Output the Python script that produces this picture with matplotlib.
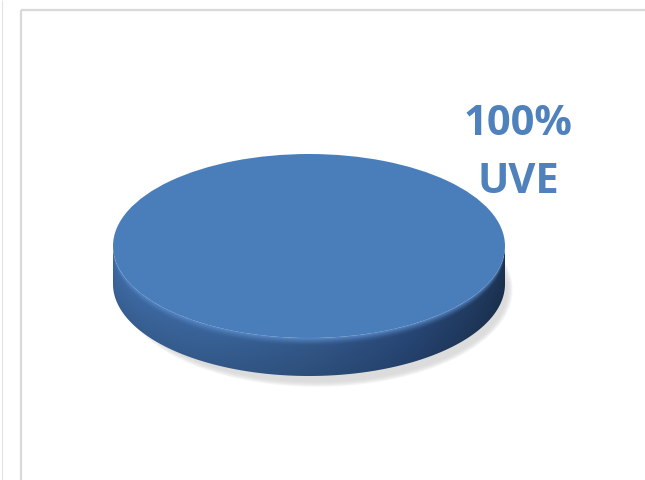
"""
3D-looking single-slice pie (100% UVE), Office style.
"""
import numpy as np
import matplotlib
matplotlib.use("Agg")
import matplotlib.pyplot as plt
from matplotlib.path import Path
from matplotlib.patches import PathPatch, Ellipse
from matplotlib.colors import to_rgb

# ---------------------------------------------------------------------------
# Data
# ---------------------------------------------------------------------------
labels = ["UVE"]
values = [100]
pct_labels = ["100%"]

top_color = "#4a7ebb"
label_color = "#4f81bd"

W, H = 645, 480
fig = plt.figure(figsize=(W / 100, H / 100), dpi=100)
fig.patch.set_facecolor("white")

# background axes in pixel coords (y down) for the frame and labels
bg = fig.add_axes([0, 0, 1, 1])
bg.set_xlim(0, W)
bg.set_ylim(H, 0)
bg.axis("off")
bg.plot([1.5, 1.5], [0, H], color="#e3e3e3", lw=0.8, solid_capstyle="butt")
bg.plot([21, 21], [10, H], color="#d9d9d9", lw=1.6, solid_capstyle="butt")
bg.plot([21, W], [10, 10], color="#d9d9d9", lw=1.6, solid_capstyle="butt")

# ---------------------------------------------------------------------------
# Pie axes: unit circle squashed into an ellipse (a=196px, b=92px)
# ---------------------------------------------------------------------------
cx, cy = 309, 246
sx, sy = 196, 92
x0, x1 = -1.3, 1.3
y0, y1 = -1.9, 1.3
left = (cx + x0 * sx) / W
width = (x1 - x0) * sx / W
bottom = 1 - (cy - y0 * sy) / H
height = (y1 - y0) * sy / H
ax = fig.add_axes([left, bottom, width, height])

t = 38 / sy  # thickness of the disc in data units

# soft shadow under the disc, mostly below and a little to the right
n_sh = 14
for i in range(n_sh):
    grow = 0.06 * (1 - i / n_sh)
    ax.add_patch(Ellipse((0.04, -t - 0.06), 2 * (0.97 + grow * 0.5), 2 * (1.0 + grow),
                         facecolor="#d2d2d2", edgecolor="none", alpha=0.08, zorder=1))

# side of the disc
th = np.linspace(np.pi, 2 * np.pi, 200)
top_edge = np.column_stack([np.cos(th), np.sin(th)])
bot_edge = np.column_stack([np.cos(th[::-1]), np.sin(th[::-1]) - t])
verts = np.vstack([top_edge, bot_edge, top_edge[:1]])
codes = [Path.MOVETO] + [Path.LINETO] * (len(verts) - 2) + [Path.CLOSEPOLY]
side = PathPatch(Path(verts, codes), facecolor="none", edgecolor="none", zorder=2)
ax.add_patch(side)

gx = np.linspace(-1, 1, 400)
gy = np.linspace(-1 - t, 0, 200)
X, Y = np.meshgrid(gx, gy)
stops_x = [-1.0, -0.5, 0.0, 0.5, 0.85, 1.0]
stops_c = [to_rgb(c) for c in ["#3f6ca6", "#3a659c", "#33598a", "#29497a", "#213c62", "#1d3556"]]
base = np.stack([np.interp(X, stops_x, [c[k] for c in stops_c]) for k in range(3)], axis=-1)
ytop = -np.sqrt(np.clip(1 - X ** 2, 0, 1))
s = np.clip((ytop - Y) / t, 0, 1)
hi = np.array(to_rgb("#5a8ccb"))
w_hi = np.clip(1 - s / 0.22, 0, 1)[..., None] ** 1.5
shade = (1 - 0.12 * s)[..., None]
rgb = base * shade * (1 - w_hi) + hi * w_hi
img = ax.imshow(rgb, extent=[-1, 1, -1 - t, 0], origin="lower",
                aspect="auto", interpolation="bilinear", zorder=2)
img.set_clip_path(side)

# top face
wedges, _ = ax.pie(values, radius=1, colors=[top_color], startangle=90,
                   wedgeprops=dict(linewidth=0))
for w in wedges:
    w.set_zorder(3)

ax.set_aspect("auto")
ax.set_xlim(x0, x1)
ax.set_ylim(y0, y1)
ax.axis("off")

# labels
bg.text(518, 135, pct_labels[0], ha="center", va="baseline", color=label_color,
        fontsize=30, fontweight="bold", family="Open Sans")
bg.text(518, 193, labels[0], ha="center", va="baseline", color=label_color,
        fontsize=30, fontweight="bold", family="Open Sans")

fig.savefig("out.png", dpi=100)
